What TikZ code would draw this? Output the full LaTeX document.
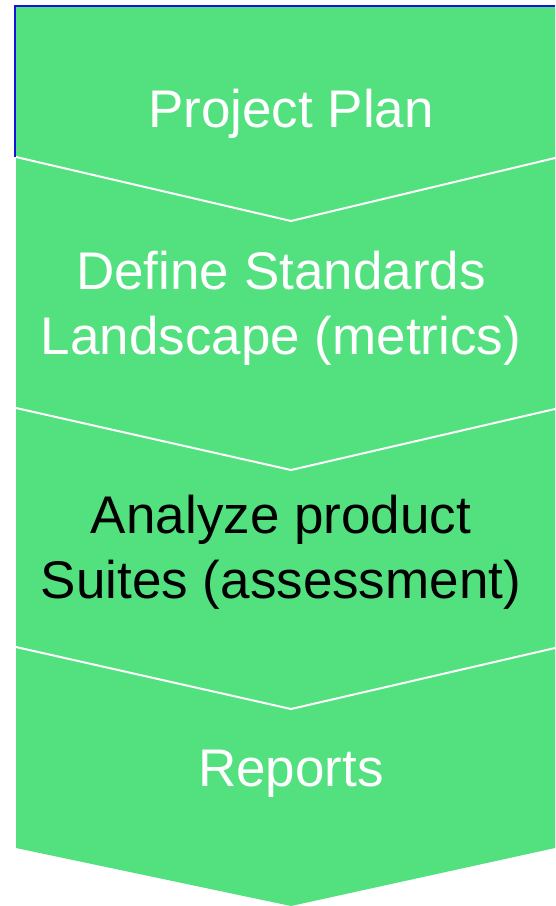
\documentclass[tikz,border=0pt]{standalone}
\usepackage{fontspec}
\setmainfont{Liberation Sans}
\definecolor{bandgreen}{RGB}{82,225,126}
\definecolor{selblue}{RGB}{20,20,220}
\begin{document}
\begin{tikzpicture}[x=1pt,y=-1pt,
  sep/.style={draw=white,line width=2pt},
  lbl/.style={font=\fontsize{53}{65}\selectfont,align=center,inner sep=0pt}]
\useasboundingbox (0,0) rectangle (555,906);
\fill[bandgreen] (16,6) -- (555,6) -- (555,848) -- (291,906) -- (16,848) -- cycle;
\draw[sep] (16,157) -- (291,221) -- (555,158);
\draw[sep] (16,408) -- (291,470) -- (555,409);
\draw[sep] (16,647) -- (291,709) -- (555,648);
\draw[selblue,line width=2.2pt] (15,157) -- (15,6) -- (555,6);
\node[lbl,text=white] (p1) at (291,114) {Project Plan};
\node[lbl,text=white] (p2) at (281,308) {Define Standards\\Landscape (metrics)};
\node[lbl,text=black] (p3) at (281,552) {Analyze product\\Suites (assessment)};
\node[lbl,text=white] (p4) at (291,774) {Reports};
\end{tikzpicture}
\end{document}
